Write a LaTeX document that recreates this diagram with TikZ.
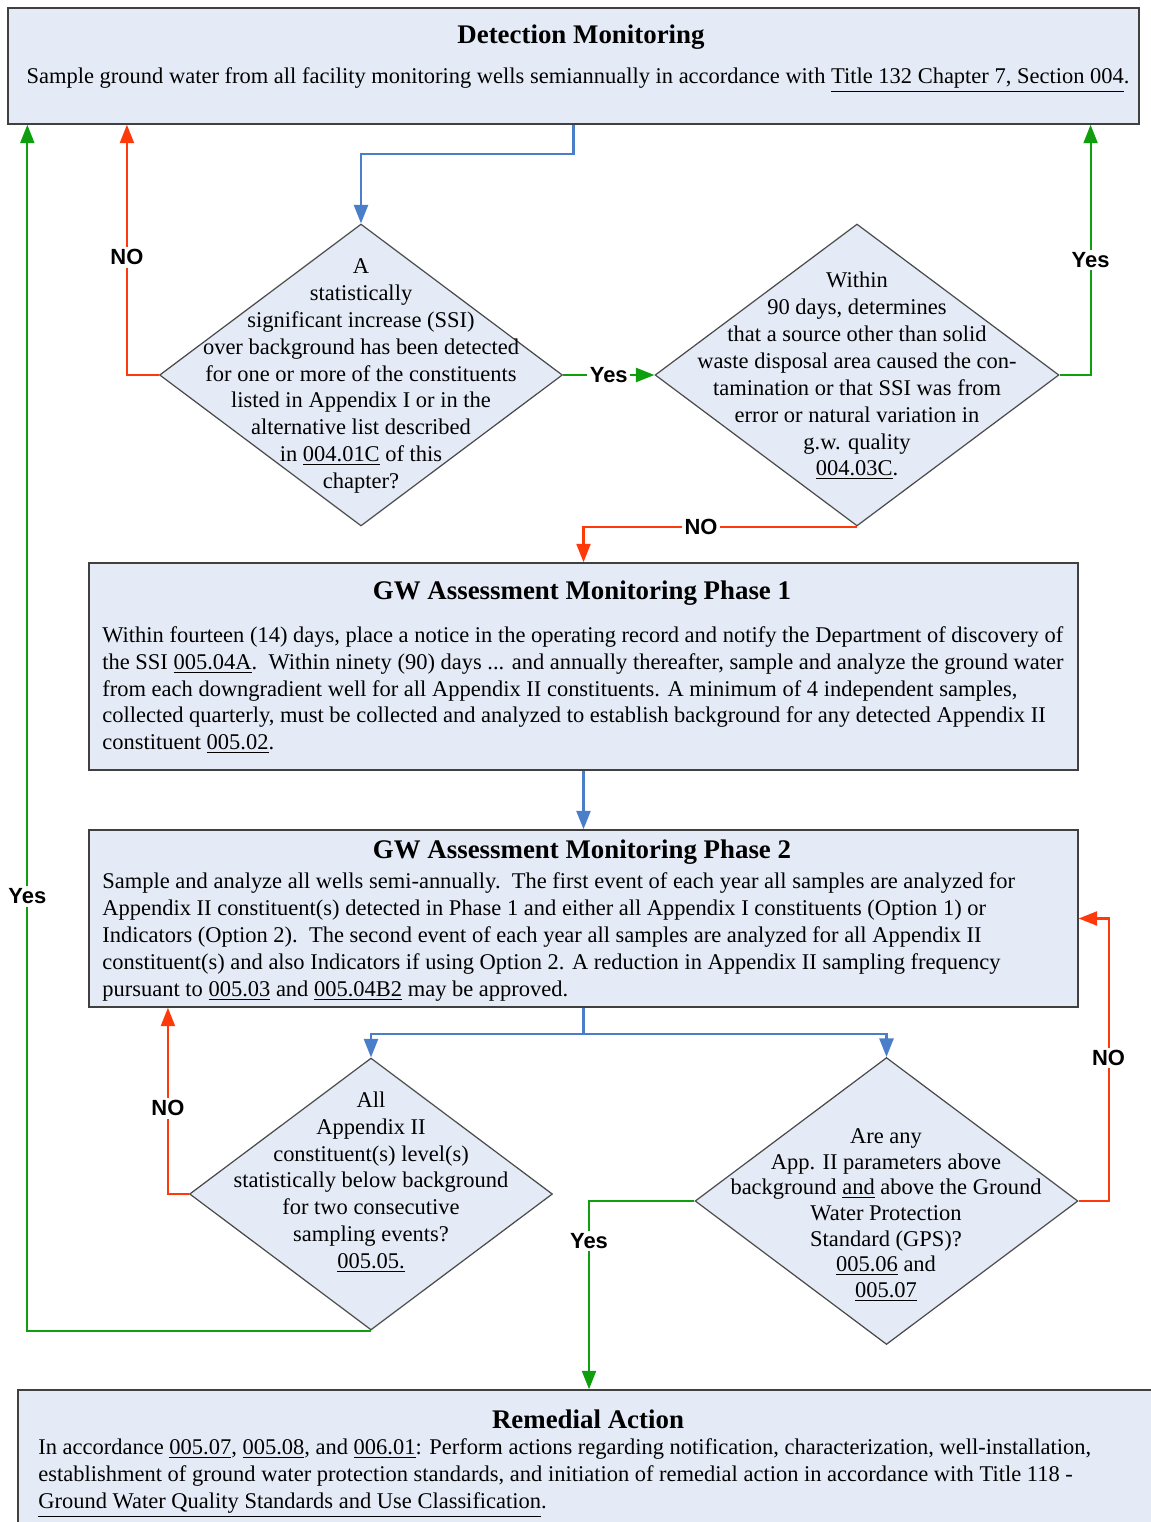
\documentclass[tikz,border=0pt]{standalone}
\usepackage{fontspec}
\setmainfont{Liberation Serif}
\newfontfamily\lblfont{Liberation Sans}
\usetikzlibrary{shapes.geometric,arrows.meta,positioning}

\definecolor{boxfill}{HTML}{E5EBF6}
\definecolor{flowblue}{HTML}{4A7EC8}
\definecolor{flowred}{HTML}{FF3A0A}
\definecolor{flowgreen}{HTML}{0E9E0E}

\tikzset{
	box/.style={draw=black!75,fill=boxfill,line width=0.9pt,rectangle,inner sep=0pt},
	decision/.style={draw=black!70,fill=boxfill,line width=0.7pt,diamond,inner sep=0pt},
	ttl/.style={font=\bfseries\fontsize{15.3}{17}\selectfont,inner sep=0pt},
	txt/.style={font=\fontsize{12.8}{15.3}\selectfont,inner sep=0pt,align=left},
	qtxt/.style={font=\fontsize{12.8}{15.3}\selectfont,inner sep=0pt,align=center},
	lbl/.style={font=\lblfont\bfseries\fontsize{12.5}{14}\selectfont,fill=white,inner sep=1.5pt,text=black},
	blueflow/.style={flowblue,line width=1.3pt,->},
	redflow/.style={flowred,line width=1.2pt,->},
	greenflow/.style={flowgreen,line width=1.2pt,->}
}

\begin{document}
\begin{tikzpicture}[x=0.02cm,y=-0.02cm,>={Triangle[length=10.5pt,width=8pt]}]
	\useasboundingbox (0,0) rectangle (1151,1522);

	% boxes
	\node[box,minimum width=22.62cm,minimum height=2.32cm] (det) at (573.5,66) {};
	\node[box,minimum width=19.78cm,minimum height=4.14cm] (p1) at (583.5,666.5) {};
	\node[box,minimum width=19.78cm,minimum height=3.54cm] (p2) at (583.5,918.5) {};
	\node[box,minimum width=22.84cm,minimum height=3.4cm] (rem) at (589,1475) {};

	% decisions
	\node[decision,minimum width=8.06cm,minimum height=6.04cm] (q1) at (361,375) {};
	\node[decision,minimum width=8.08cm,minimum height=6.04cm] (q2) at (857,375) {};
	\node[decision,minimum width=7.26cm,minimum height=5.44cm] (q3) at (371,1194) {};
	\node[decision,minimum width=7.66cm,minimum height=5.74cm] (q4) at (886.5,1201) {};

	% texts
	\node[ttl] (dett) at (581,37) {Detection Monitoring};
	\node[txt] (detb) at (578,80) {Sample ground water from all facility monitoring wells semiannually in accordance with \underline{Title 132 Chapter 7, Section 004}.};

	\node[ttl] (p1t) at (582,593) {GW Assessment Monitoring Phase 1};
	\node[txt,anchor=west] (p1b) at (102,690) {Within fourteen (14) days, place a notice in the operating record and notify the Department of discovery of\\
		the SSI \underline{005.04A}.\ \ Within ninety (90) days ... and annually thereafter, sample and analyze the ground water\\
		from each downgradient well for all Appendix II constituents. A minimum of 4 independent samples,\\
		collected quarterly, must be collected and analyzed to establish background for any detected Appendix II\\
		constituent \underline{005.02}.};

	\node[ttl] (p2t) at (582,852) {GW Assessment Monitoring Phase 2};
	\node[txt,anchor=west] (p2b) at (102,937) {Sample and analyze all wells semi-annually.\ \ The first event of each year all samples are analyzed for\\
		Appendix II constituent(s) detected in Phase 1 and either all Appendix I constituents (Option 1) or\\
		Indicators (Option 2).\ \ The second event of each year all samples are analyzed for all Appendix II\\
		constituent(s) and also Indicators if using Option 2. A reduction in Appendix II sampling frequency\\
		pursuant to \underline{005.03} and \underline{005.04B2} may be approved.};

	\node[ttl] (remt) at (588,1419) {Remedial Action};
	\node[txt,anchor=west] (remb) at (38,1478) {In accordance \underline{005.07}, \underline{005.08}, and \underline{006.01}: Perform actions regarding notification, characterization, well-installation,\\
		establishment of ground water protection standards, and initiation of remedial action in accordance with Title 118 -\\
		\underline{Ground Water Quality Standards and Use Classification}.};

	\node[qtxt] (q1t) at (361,376) {A\\ statistically\\ significant increase (SSI)\\ over background has been detected\\ for one or more of the constituents\\ listed in Appendix I or in the\\ alternative list described\\ in \underline{004.01C} of this\\ chapter?};
	\node[qtxt] (q2t) at (857,376) {Within\\ 90 days, determines\\ that a source other than solid\\ waste disposal area caused the con-\\ tamination or that SSI was from\\ error or natural variation in\\ g.w. quality\\ \underline{004.03C}.};
	\node[qtxt] (q3t) at (371,1182) {All\\ Appendix II\\ constituent(s) level(s)\\ statistically below background\\ for two consecutive\\ sampling events?\\ \underline{005.05.}};
	\node[qtxt,font=\fontsize{12.8}{14.6}\selectfont] (q4t) at (886,1215) {Are any\\ App. II parameters above\\ background \underline{and} above the Ground\\ Water Protection\\ Standard (GPS)?\\ \underline{005.06} and\\ \underline{005.07}};

	% connectors
	\draw[blueflow] (det.south) -- ++(0,29) -| (q1.north);
	\draw[redflow] (q1.west) -- ++(-32,0) coordinate (n1) -- node[lbl,pos=0.47]{NO} (n1 |- det.south);
	\draw[greenflow] (q1.east) -- node[lbl]{Yes} (q2.west);
	\draw[greenflow] (q2.east) -- ++(31,0) coordinate (y2) -- node[lbl,pos=0.46]{Yes} (y2 |- det.south);
	\draw[redflow] (q2.south) -| node[lbl,pos=0.285]{NO} (p1.north);
	\draw[blueflow] (p1.south) -- (p2.north);
	\draw[blueflow] (p2.south) -- ++(0,26) coordinate (s2) -| (q3.north);
	\draw[blueflow] (s2) -| (q4.north);
	\draw[redflow] (q3.west) -- ++(-21,0) coordinate (n3) -- node[lbl,pos=0.46]{NO} (n3 |- p2.south);
	\draw[greenflow] (q3.south) -| node[lbl,pos=0.68]{Yes} ([xshift=0.4cm]det.south west);
	\draw[redflow] (q4.east) -- ++(30,0) coordinate (n4) |- node[lbl,pos=0.253]{NO} (p2.east);
	\draw[greenflow] (q4.west) -| node[lbl,pos=0.606]{Yes} (rem.north);
\end{tikzpicture}
\end{document}
